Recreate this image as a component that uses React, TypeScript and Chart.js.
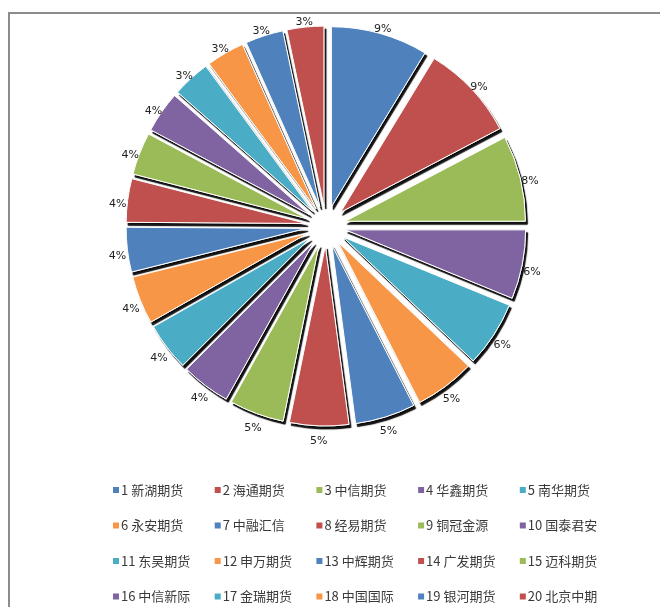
import React, { useEffect, useRef } from "react";
import { Chart, registerables } from "chart.js";

Chart.register(...registerables);

const names = [
  "新湖期货", "海通期货", "中信期货", "华鑫期货", "南华期货",
  "永安期货", "中融汇信", "经易期货", "铜冠金源", "国泰君安",
  "东吴期货", "申万期货", "中辉期货", "广发期货", "迈科期货",
  "中信新际", "金瑞期货", "中国国际", "银河期货", "北京中期",
];
const values = [
  8.7, 8.6, 7.7, 6.2, 5.9, 5.4, 5.4, 5.3, 4.9, 4.4,
  4.3, 4.3, 4.0, 3.9, 3.8, 3.7, 3.4, 3.4, 3.4, 3.3,
];
const palette = ["#4F81BD", "#C0504D", "#9BBB59", "#8064A2", "#4BACC6", "#F79646"];
const labels = names.map((n, i) => `${i + 1} ${n}`);
const colors = names.map((_, i) => palette[i % palette.length]);

const EXPLODE = 20;

export default function App() {
  const ref = useRef<HTMLCanvasElement>(null);

  useEffect(() => {
    if (!ref.current) return;

    const framePlugin = {
      id: "frame",
      beforeDraw(chart: any) {
        const ctx = chart.ctx;
        ctx.save();
        ctx.strokeStyle = "#8c8c8c";
        ctx.lineWidth = 2;
        ctx.beginPath();
        ctx.moveTo(1, chart.height + 10);
        ctx.lineTo(1, 5);
        ctx.lineTo(chart.width + 10, 5);
        ctx.stroke();
        ctx.restore();
      },
    };

    const explodePlugin = {
      id: "explodedPie",
      beforeDatasetsDraw(chart: any) {
        const ctx = chart.ctx;
        const meta = chart.getDatasetMeta(0);
        const drawAll = () =>
          meta.data.forEach((a: any) => {
            const mid = (a.startAngle + a.endAngle) / 2;
            ctx.save();
            ctx.translate(Math.cos(mid) * EXPLODE, Math.sin(mid) * EXPLODE);
            a.draw(ctx);
            ctx.restore();
          });
        // shadows first
        ctx.save();
        ctx.shadowColor = "rgba(0,0,0,0.95)";
        ctx.shadowOffsetX = 2;
        ctx.shadowOffsetY = 3;
        ctx.shadowBlur = 1;
        drawAll();
        ctx.restore();
        // slices on top
        drawAll();

        // percentage labels
        const total = values.reduce((s, v) => s + v, 0);
        ctx.save();
        ctx.font = "11px 'DejaVu Sans'";
        ctx.fillStyle = "#222";
        ctx.textAlign = "center";
        ctx.textBaseline = "middle";
        meta.data.forEach((a: any, i: number) => {
          const mid = (a.startAngle + a.endAngle) / 2;
          const text = `${Math.round((values[i] / total) * 100)}%`;
          const r = a.outerRadius + EXPLODE + 10;
          ctx.fillText(text, a.x + Math.cos(mid) * r, a.y + Math.sin(mid) * r + 5);
        });
        ctx.restore();
        return false;
      },
    };

    const legendPlugin = {
      id: "gridLegend",
      afterDraw(chart: any) {
        const ctx = chart.ctx;
        ctx.save();
        ctx.font = "13px 'Noto Sans CJK SC'";
        ctx.textBaseline = "middle";
        ctx.textAlign = "left";
        labels.forEach((lab, i) => {
          const col = i % 5;
          const row = Math.floor(i / 5);
          const x = 105 + col * 101.7;
          const y = 482 + row * 35.5;
          ctx.fillStyle = colors[i];
          ctx.fillRect(x, y - 3, 6, 6);
          ctx.fillStyle = "#3a3a3a";
          ctx.fillText(lab, x + 8, y);
        });
        ctx.restore();
      },
    };

    const chart = new Chart(ref.current, {
      type: "pie",
      data: {
        labels,
        datasets: [
          {
            data: values,
            backgroundColor: colors,
            borderColor: "#ffffff",
            borderWidth: 1,
            offset: 0,
            hoverOffset: 0,
          },
        ],
      },
      options: {
        animation: false,
        responsive: true,
        maintainAspectRatio: false,
        radius: 180,
        layout: { padding: { left: 0, right: 24, top: 20, bottom: 183 } },
        plugins: {
          legend: { display: false },
          tooltip: { enabled: false },
          title: { display: false },
        },
        events: [],
      } as any,
      plugins: [framePlugin, explodePlugin, legendPlugin],
    });

    return () => chart.destroy();
  }, []);

  return (
    <div style={{ position: "relative", width: 660, height: 599 }}>
      <canvas ref={ref} />
    </div>
  );
}
